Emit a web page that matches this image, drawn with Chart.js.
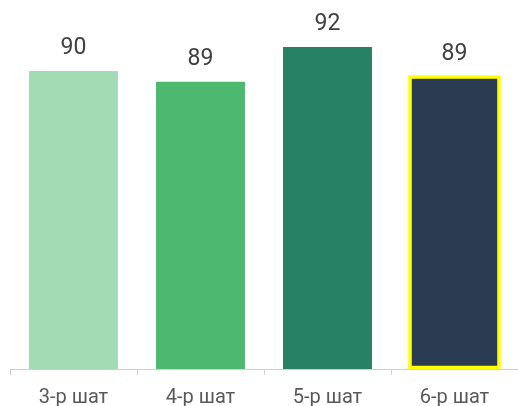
<!DOCTYPE html>
<html>
<head>
<meta charset="utf-8">
<script src="https://cdn.jsdelivr.net/npm/chart.js@4/dist/chart.umd.min.js"></script>
<style>
html,body{margin:0;padding:0;background:#fff;}
#wrap{width:518px;height:406px;}
</style>
</head>
<body>
<div id="wrap"><canvas id="c" width="518" height="406"></canvas></div>
<script>
const categories = ['3-р шат', '4-р шат', '5-р шат', '6-р шат'];
const values = [89.9, 89.0, 91.9, 89.4];
const barColors = ['#a2dbb4', '#4cb870', '#268165', '#2b3b51'];
const highlightIndex = 3;
const highlightColor = '#ffff00';

const labelPlugin = {
  id: 'valueLabels',
  afterDatasetsDraw(chart) {
    const ctx = chart.ctx;
    const meta = chart.getDatasetMeta(0);
    const bottom = chart.chartArea.bottom;
    ctx.save();
    const hb = meta.data[highlightIndex];
    if (hb) {
      ctx.strokeStyle = highlightColor;
      ctx.lineWidth = 3.5;
      ctx.strokeRect(hb.x - hb.width / 2, hb.y, hb.width, bottom - 1.5 - hb.y);
    }
    ctx.fillStyle = '#404040';
    ctx.font = '23px Roboto';
    ctx.textAlign = 'center';
    ctx.textBaseline = 'alphabetic';
    meta.data.forEach((bar, i) => {
      ctx.fillText(Math.round(values[i]).toString(), bar.x, bar.y - 17);
    });
    ctx.restore();
  }
};

new Chart(document.getElementById('c'), {
  type: 'bar',
  data: {
    labels: categories,
    datasets: [{
      data: values,
      backgroundColor: barColors,
      borderWidth: 0,
      barPercentage: 0.7,
      categoryPercentage: 1.0
    }]
  },
  options: {
    responsive: false,
    animation: false,
    layout: { padding: { left: 10, right: 0, top: 10, bottom: -15 } },
    plugins: { legend: { display: false }, tooltip: { enabled: false } },
    scales: {
      y: { display: false, min: 65, max: 95 },
      x: {
        offset: true,
        border: { display: true, color: '#d0d0d0', width: 1 },
        grid: { display: true, drawOnChartArea: false, drawTicks: true, tickLength: 6, color: '#d0d0d0' },
        ticks: { color: '#595959', font: { family: 'Roboto', size: 20 }, padding: 11 }
      }
    }
  },
  plugins: [labelPlugin]
});
</script>
</body>
</html>
